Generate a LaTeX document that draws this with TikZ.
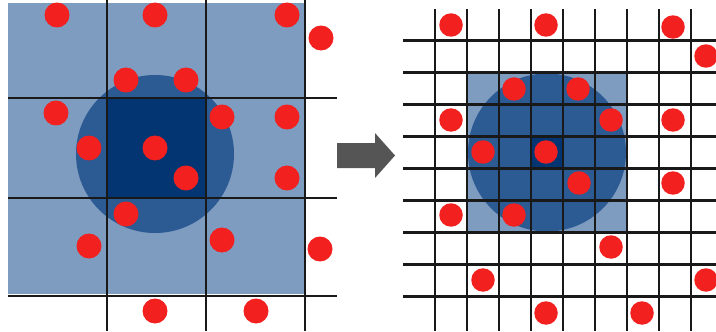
\documentclass[tikz,border=0pt]{standalone}
\usepackage{tikz}
\usepackage{xcolor}
\definecolor{cellpale}{HTML}{7E9BC0}
\definecolor{cutcircle}{HTML}{2C5A93}
\definecolor{cellhome}{HTML}{033573}
\definecolor{atomred}{HTML}{F2201E}
\definecolor{arrowgray}{HTML}{555555}
\tikzset{
  gridline/.style = {
    line width=1.3pt,
    draw=black!90
  },
  bigatom/.style = {
    circle,
    fill=atomred,
    inner sep=0pt,
    minimum size=0.5cm
  },
  smallatom/.style = {
    circle,
    fill=atomred,
    inner sep=0pt,
    minimum size=0.47cm
  }
}
\begin{document}
\begin{tikzpicture}[x=0.02cm, y=-0.02cm]
    \useasboundingbox (0,0) rectangle (716,331);
    % coarse cells
    \fill[cellpale] (8,3) rectangle (305,294);
    \fill[cutcircle] (155,154) circle (79);
    \fill[cellhome] (107,98) rectangle (206,198);
    \foreach \gx in {107,206,305}
      \draw[gridline] (\gx,0) -- (\gx,331);
    \foreach \gy in {98,198,296}
      \draw[gridline] (8,\gy) -- (337,\gy);
    \foreach \ax/\ay [count=\i] in {57/15,155/15,287/15,321/38,126/80,186/80,56/113,222/117,287/117,89/148,155/148,186/178,287/178,126/214,89/246,222/240,320/249,155/311,256/311}
      \node[bigatom] (latom\i) at (\ax,\ay) {};
    % arrow
    \fill[arrowgray] (337,143) -- (375,143) -- (375,133) -- (395,155.5)
      -- (375,178) -- (375,168) -- (337,168) -- cycle;
    % fine cells
    \fill[cellpale] (467,72.5) rectangle (627,232.5);
    \fill[cutcircle] (547,152.5) circle (79);
    \fill[cellhome] (531,136.5) rectangle (563,168.5);
    \foreach \k in {0,...,8}
      \draw[gridline] (435+32*\k,9) -- (435+32*\k,331);
    \foreach \k in {0,...,8}
      \draw[gridline] (403,40.5+32*\k) -- (716,40.5+32*\k);
    \foreach \ax/\ay [count=\i] in {451/25,546/25,673/27,706/56,514/89,578/89,451/120,611/120,673/120,483/152,546/152,579/183,673/183,451/215,514/215,611/247,483/280,706/280,546/313,642/313}
      \node[smallatom] (ratom\i) at (\ax,\ay) {};
\end{tikzpicture}
\end{document}
